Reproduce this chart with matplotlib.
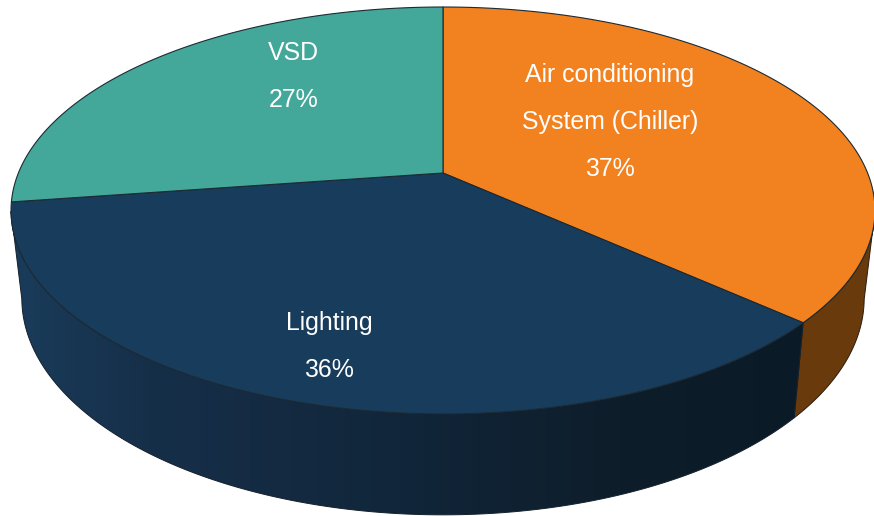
# 3D style pie: energy share by system, drawn as a tilted disc
import numpy as np
import matplotlib
matplotlib.use('Agg')
import matplotlib.pyplot as plt
from matplotlib.colors import to_rgb
from matplotlib.patches import Polygon

plt.rcParams['font.family'] = ['Liberation Sans', 'DejaVu Sans']

labels = ['Air conditioning\nSystem (Chiller)', 'Lighting', 'VSD']
values = [37, 36, 27]
top_colors = ['#f28120', '#183c5c', '#43a899']
label_pos = [(610, 122), (329, 346.5), (293.5, 76.5)]

# tilted disc geometry, in pixels
cx, cy = 443, 173
ax_x = 424.6
ay = -164.7
persp = 0.184
warp = 0.024
side_scale_x = 0.975
# outermost angles of the wall, where the disc outline turns back
wall_from = np.arccos(-persp) + warp
wall_to = 2 * np.pi - np.arccos(-persp) + warp * 0.6


def top_xy(theta):
    # theta is clockwise from twelve o'clock, radians
    t = theta - warp * np.sin(theta / 2)
    u, v = np.sin(t), np.cos(t)
    w = 1 + persp * v
    return cx + ax_x * u / w, (cy + ay * v) / w


def bottom_xy(theta):
    x, y = top_xy(theta)
    return cx + (x - cx) * side_scale_x, y + 101 - (414 - y) * 0.065


def wall_polygon(a0, a1):
    t = np.linspace(a0, a1, 300)
    xt, yt = top_xy(t)
    xb, yb = bottom_xy(t[::-1])
    return np.c_[np.r_[xt, xb], np.r_[yt, yb]]


fig = plt.figure(figsize=(8.74, 5.16), dpi=100)
ax = fig.add_axes([0, 0, 1, 1])
ax.set_xlim(0, 874)
ax.set_ylim(516, 0)
ax.axis('off')

edges = np.cumsum([0] + values) / sum(values) * 2 * np.pi

# orange wall, flat colour
orange_wall = wall_polygon(wall_from, edges[1])
ax.add_patch(Polygon(orange_wall, closed=True, facecolor='#683a0c', edgecolor='#2a1c10', lw=0.7, zorder=1))

# navy wall with a left to right shade
navy_wall = wall_polygon(edges[1], wall_to)
shade_x = np.linspace(0, 874, 438)
stops_x = [0, 150, 400, 620, 820]
stops_c = np.array([to_rgb(h) for h in ['#1a3d5c', '#162f49', '#11263a', '#0e1d2a', '#0a1a27']])
shade = np.stack([np.interp(shade_x, stops_x, stops_c[:, i]) for i in range(3)], axis=-1)[None, :, :]
navy_patch = Polygon(navy_wall, closed=True, facecolor='none', edgecolor='#14202c', lw=0.7, zorder=2)
ax.add_patch(navy_patch)
img = ax.imshow(shade, extent=[0, 874, 516, 0], aspect='auto', zorder=1, interpolation='bilinear')
img.set_clip_path(navy_patch)
ax.set_xlim(0, 874)
ax.set_ylim(516, 0)

# top face
for i in range(len(values)):
    t = np.linspace(edges[i], edges[i + 1], 300)
    x, y = top_xy(t)
    ax.fill(np.r_[cx, x], np.r_[cy, y], facecolor=top_colors[i],
            edgecolor='#1c2a33', lw=0.8, joinstyle='round', zorder=3)

for name, val, pos in zip(labels, values, label_pos):
    ax.text(pos[0], pos[1], f'{name}\n{val}%', color='white', fontsize=17.9,
            ha='center', va='center', multialignment='center', linespacing=2.2, zorder=5)

fig.savefig('out.png', dpi=100)
